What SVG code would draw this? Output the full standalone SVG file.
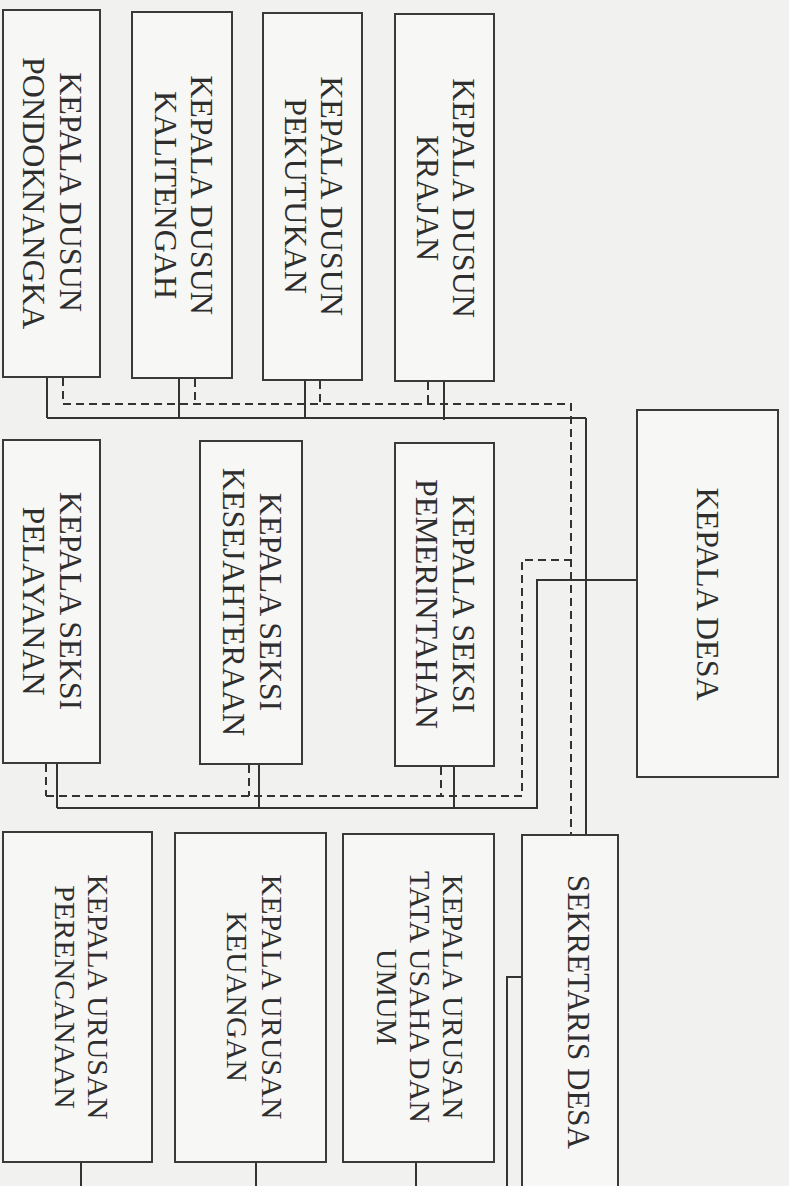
<svg xmlns="http://www.w3.org/2000/svg" width="789" height="1186" viewBox="0 0 789 1186">
<style>
.box{fill:#f7f7f5;stroke:#3a3a3a;stroke-width:2}
.t{font-family:"Liberation Serif","DejaVu Serif",serif;font-size:32px;fill:#2e2e2e;text-anchor:middle}
.s{font-size:30px}
.ln{fill:none;stroke:#333;stroke-width:2}
.dl{fill:none;stroke:#333;stroke-width:2;stroke-dasharray:8 5}
</style>
<rect width="789" height="1186" fill="#f1f1ef"/>
<g id="connectors">
<path class="ln" d="M47,378 V418 M179,379 V418 M305,381 V419 M444,382 V420 M47,418 H586 M586,418 V835"/>
<path class="dl" d="M63,378 V404 M195,379 V404 M320,381 V405 M428,382 V405 M63,404 H571 V835"/>
<path class="ln" d="M57,764 V808 M259,765 V808 M454,767 V808 M57,808 H537 V580 H637"/>
<path class="dl" d="M46,764 V796 M249,765 V796 M441,767 V796 M46,796 H522 V560 H571"/>
<path class="ln" d="M522,977 H507 V1190"/>
<path class="ln" d="M81,1162 V1190 M256,1162 V1190 M416,1162 V1190"/>
</g>
<g id="kepala-desa">
<rect class="box" x="637" y="410" width="141" height="367"/>
<text class="t" transform="translate(697,594) rotate(90)">KEPALA DESA</text>
</g>
<g id="dusun-krajan">
<rect class="box" x="395" y="14" width="99" height="367"/>
<text class="t" transform="translate(453,198) rotate(90)">KEPALA DUSUN</text>
<text class="t" transform="translate(417,198) rotate(90)">KRAJAN</text>
</g>
<g id="dusun-pekutukan">
<rect class="box" x="263" y="13" width="99" height="367"/>
<text class="t" transform="translate(321,196) rotate(90)">KEPALA DUSUN</text>
<text class="t" transform="translate(285,196) rotate(90)">PEKUTUKAN</text>
</g>
<g id="dusun-kalitengah">
<rect class="box" x="132" y="12" width="100" height="366"/>
<text class="t" transform="translate(191,195) rotate(90)">KEPALA DUSUN</text>
<text class="t" transform="translate(155,195) rotate(90)">KALITENGAH</text>
</g>
<g id="dusun-pondoknangka">
<rect class="box" x="3" y="10" width="97" height="367"/>
<text class="t" transform="translate(60,192) rotate(90)">KEPALA DUSUN</text>
<text class="t" transform="translate(23,193) rotate(90)">PONDOKNANGKA</text>
</g>
<g id="seksi-pemerintahan">
<rect class="box" x="395" y="443" width="99" height="323"/>
<text class="t" transform="translate(453,604) rotate(90)">KEPALA SEKSI</text>
<text class="t" transform="translate(416,604) rotate(90)">PEMERINTAHAN</text>
</g>
<g id="seksi-kesejahteraan">
<rect class="box" x="200" y="441" width="102" height="323"/>
<text class="t" transform="translate(260,602) rotate(90)">KEPALA SEKSI</text>
<text class="t" transform="translate(223,602) rotate(90)">KESEJAHTERAAN</text>
</g>
<g id="seksi-pelayanan">
<rect class="box" x="3" y="440" width="97" height="323"/>
<text class="t" transform="translate(60,601) rotate(90)">KEPALA SEKSI</text>
<text class="t" transform="translate(23,601) rotate(90)">PELAYANAN</text>
</g>
<g id="sekretaris-desa">
<rect class="box" x="522" y="835" width="96" height="360"/>
<text class="t" style="font-size:31px" transform="translate(568,1012) rotate(90)">SEKRETARIS DESA</text>
</g>
<g id="urusan-tata-usaha">
<rect class="box" x="343" y="834" width="151" height="328"/>
<text class="t s" transform="translate(443,997) rotate(90)">KEPALA URUSAN</text>
<text class="t s" transform="translate(410,997) rotate(90)">TATA USAHA DAN</text>
<text class="t s" transform="translate(377,997) rotate(90)">UMUM</text>
</g>
<g id="urusan-keuangan">
<rect class="box" x="175" y="833" width="151" height="329"/>
<text class="t s" transform="translate(262,997) rotate(90)">KEPALA URUSAN</text>
<text class="t s" transform="translate(227,997) rotate(90)">KEUANGAN</text>
</g>
<g id="urusan-perencanaan">
<rect class="box" x="3" y="832" width="149" height="330"/>
<text class="t s" transform="translate(88,997) rotate(90)">KEPALA URUSAN</text>
<text class="t s" transform="translate(55,997) rotate(90)">PERENCANAAN</text>
</g>
</svg>
